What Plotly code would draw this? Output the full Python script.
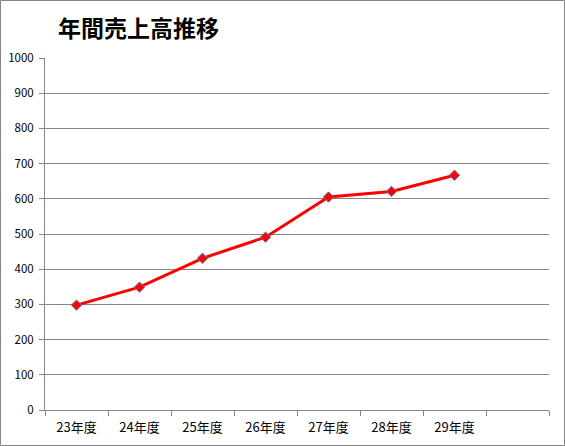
import plotly.graph_objects as go

# データ
YEARS = ["23年度", "24年度", "25年度", "26年度", "27年度", "28年度", "29年度"]
SALES = [298, 349, 431, 491, 605, 621, 667]
Y_TICKS = list(range(0, 1001, 100))

TITLE = "年間売上高推移"
FONT = "Noto Sans CJK JP"

x_pos = list(range(len(YEARS)))

fig = go.Figure()
fig.add_trace(go.Scatter(
    x=x_pos,
    y=SALES,
    mode="lines+markers",
    line=dict(color="#FF0000", width=3),
    marker=dict(symbol="diamond", size=8, color="#FF0000",
                line=dict(color="#4F81BD", width=1)),
    hoverinfo="skip",
    showlegend=False,
))

fig.update_layout(
    width=565,
    height=446,
    margin=dict(l=45, r=16, t=58, b=36),
    paper_bgcolor="white",
    plot_bgcolor="white",
    font=dict(family=FONT, size=11, color="#000000"),
    title=dict(text="<b>" + TITLE + "</b>", x=58 / 565, xanchor="left",
               y=1 - 29 / 446, yanchor="middle",
               font=dict(family=FONT, size=23, color="#000000")),
    xaxis=dict(
        range=[-0.5, 7.5],
        tickmode="array",
        tickvals=x_pos,
        ticktext=YEARS,
        ticks="",
        ticklabelstandoff=5,
        tickfont=dict(family=FONT, size=13, color="#000000"),
        showgrid=False,
        showline=True,
        linecolor="#868686",
        linewidth=1,
        zeroline=False,
        automargin=False,
        fixedrange=True,
        minor=dict(tickmode="linear", tick0=-0.5, dtick=1, ticks="outside",
                   ticklen=5, tickcolor="#868686", showgrid=False),
    ),
    yaxis=dict(
        range=[0, 1000],
        tickmode="array",
        tickvals=Y_TICKS,
        ticks="outside",
        ticklen=5,
        tickcolor="#868686",
        ticklabelstandoff=3,
        tickfont=dict(family=FONT, size=11.5, color="#000000"),
        showgrid=True,
        gridcolor="#868686",
        gridwidth=1,
        showline=True,
        linecolor="#868686",
        linewidth=1,
        zeroline=False,
        automargin=False,
        fixedrange=True,
    ),
    shapes=[dict(type="rect", xref="paper", yref="paper",
                 x0=-44.5 / 504, x1=1 + 15.5 / 504, y0=-35.5 / 352, y1=1 + 57.5 / 352,
                 line=dict(color="#868686", width=1))],
)

# ページ余白を消して左上に寄せる
fig.write_html("out.html", config={"displayModeBar": False},
               post_script="document.body.style.margin='0';")
